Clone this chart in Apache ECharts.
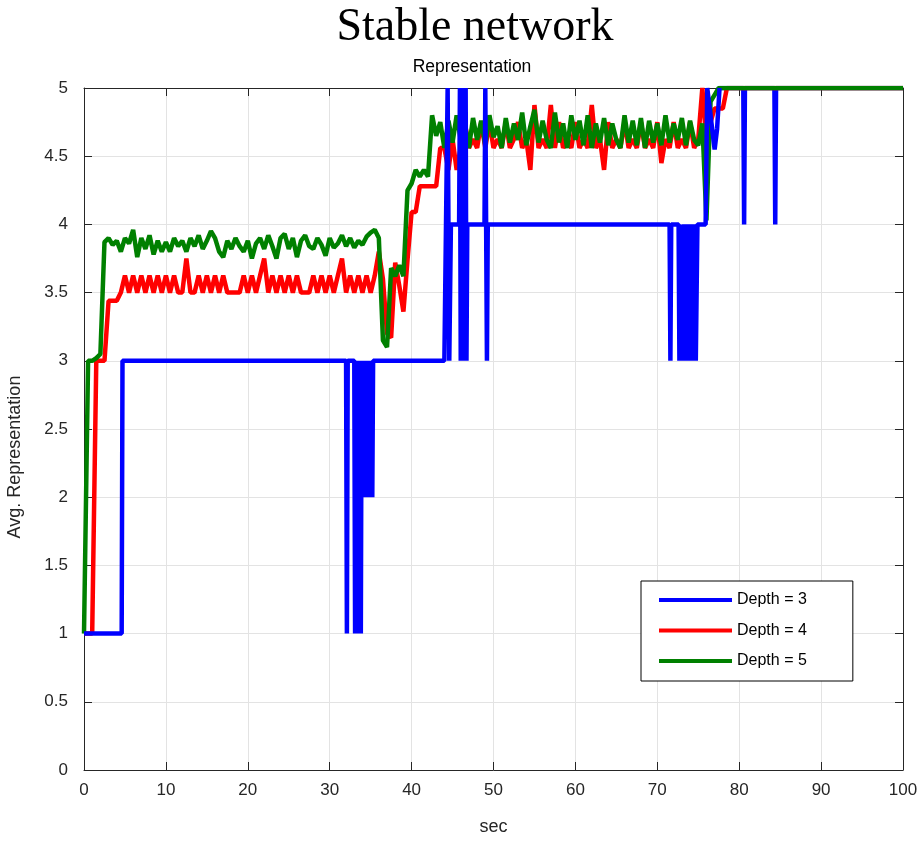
<!DOCTYPE html>
<html>
<head>
<meta charset="utf-8">
<script src="https://cdn.jsdelivr.net/npm/echarts@6/dist/echarts.min.js"></script>
<style>
html,body{margin:0;padding:0;background:#fff;}
#chart{width:923px;height:843px;}
</style>
</head>
<body>
<div id="chart"></div>
<script>
// ---- data ----
const titleText = 'Stable network';
const subtitleText = 'Representation';
const xAxisName = 'sec';
const yAxisName = 'Avg. Representation';
const seriesNames = ['Depth = 3', 'Depth = 4', 'Depth = 5'];
const xTicks = { min: 0, max: 100, interval: 10 };
const yTicks = { min: 0, max: 5, interval: 0.5 };

// red / green sampled every 0.5 s from 0 to 80 s, then held to 100 s
const sampleStep = 0.5;
const endTime = 100;
const endValue = 5;

const redValues = [
  1, 1, 1, 3, 3, 3, 3.44, 3.44, 3.44, 3.5,
  3.625, 3.5, 3.625, 3.5, 3.625, 3.5, 3.625, 3.5, 3.625, 3.5,
  3.625, 3.5, 3.625, 3.5, 3.5, 3.75, 3.5, 3.5, 3.625, 3.5,
  3.625, 3.5, 3.625, 3.5, 3.625, 3.5, 3.5, 3.5, 3.5, 3.625,
  3.5, 3.625, 3.5, 3.625, 3.75, 3.5, 3.625, 3.5, 3.625, 3.5,
  3.625, 3.5, 3.625, 3.5, 3.5, 3.5, 3.625, 3.5, 3.625, 3.5,
  3.625, 3.5, 3.625, 3.75, 3.5, 3.625, 3.5, 3.625, 3.5, 3.625,
  3.5, 3.625, 3.8, 3.6, 3.2, 3.17, 3.72, 3.55, 3.36, 3.74,
  4.09, 4.09, 4.28, 4.28, 4.28, 4.28, 4.28,
  4.56, 4.56, 4.4, 4.625, 4.4, 4.56, 4.75, 4.56, 4.625, 4.56,
  4.75, 4.56, 4.75, 4.56, 4.625, 4.56, 4.75, 4.56, 4.625, 4.75,
  4.56, 4.625, 4.4, 4.875, 4.56, 4.625, 4.56, 4.875, 4.56, 4.75,
  4.56, 4.625, 4.56, 4.75, 4.56, 4.625, 4.56, 4.875, 4.56, 4.625,
  4.4, 4.75, 4.56, 4.625, 4.56, 4.75, 4.56, 4.625, 4.56, 4.75,
  4.56, 4.625, 4.56, 4.75, 4.45, 4.625, 4.56, 4.75, 4.56, 4.625,
  4.56, 4.75, 4.56, 4.625, 5,
  4.6, 4.75, 4.85, 4.85, 4.85, 5, 5, 5, 5
];

const greenValues = [
  1, 3, 3, 3.02, 3.05, 3.87, 3.9, 3.85, 3.88, 3.8,
  3.9, 3.86, 3.96, 3.76, 3.9, 3.82, 3.92, 3.78, 3.88, 3.8,
  3.87, 3.8, 3.9, 3.84, 3.88, 3.8, 3.9, 3.84, 3.92, 3.82,
  3.88, 3.95, 3.9, 3.8, 3.76, 3.88, 3.82, 3.9, 3.84, 3.8,
  3.88, 3.75, 3.86, 3.9, 3.82, 3.92, 3.84, 3.75, 3.9, 3.93,
  3.82, 3.9, 3.76, 3.88, 3.92, 3.84, 3.82, 3.9, 3.85, 3.77,
  3.9, 3.83, 3.86, 3.92, 3.84, 3.9, 3.83, 3.88, 3.85, 3.91,
  3.94, 3.96, 3.9, 3.15, 3.1, 3.68, 3.62, 3.7, 3.62, 4.25,
  4.3, 4.4, 4.35, 4.4, 4.35, 4.8, 4.65, 4.75,
  4.56, 4.76, 4.6, 4.8, 4.62, 4.74, 4.56, 4.78, 4.62, 4.76,
  4.58, 4.8, 4.64, 4.72, 4.56, 4.78, 4.6, 4.74, 4.62, 4.82,
  4.58, 4.72, 4.84, 4.6, 4.76, 4.62, 4.56, 4.82, 4.6, 4.74,
  4.56, 4.8, 4.62, 4.76, 4.58, 4.8, 4.56, 4.74, 4.6, 4.78,
  4.58, 4.74, 4.62, 4.56, 4.8, 4.6, 4.76, 4.58, 4.78, 4.56,
  4.76, 4.6, 4.74, 4.58, 4.8, 4.6, 4.74, 4.62, 4.78, 4.58,
  4.76, 4.62, 4.58, 4.74,
  4.03, 4.9, 4.95, 5, 5, 5, 5, 5, 5
];

// blue is a step signal: (time, value) pairs
const blueTimes = [
  0, 4.6, 4.7, 32.0, 32.1, 32.2, 33.0, 33.1, 33.3, 33.5,
  33.7, 33.8, 33.9, 34.1, 34.3, 34.5, 34.7, 34.9, 35.1, 35.2,
  35.3, 44.0, 44.2, 44.4, 44.6, 44.8, 45.8, 45.9, 46.0, 46.1,
  46.2, 46.3, 46.4, 46.5, 46.6, 46.7, 46.8, 48.9, 49.0, 49.2,
  49.3, 71.5, 71.6, 71.7, 72.6, 72.7, 72.8, 73.1, 73.3, 73.5,
  73.7, 73.9, 74.1, 74.3, 74.5, 74.7, 74.9, 75.9, 76.1, 76.5,
  77.0, 77.3, 77.6, 80.5, 80.6, 80.7, 84.3, 84.4, 84.5, 100
];
const blueValues = [
  1, 1, 3, 3, 1, 3, 3, 1, 3, 1,
  3, 1, 3, 2, 3, 2, 3, 2, 3, 2,
  3, 3, 4, 5, 3, 4, 4, 5, 3, 5,
  3, 4, 5, 3, 5, 3, 4, 4, 5, 3,
  4, 4, 3, 4, 4, 3, 4, 3, 4, 3,
  4, 3, 4, 3, 4, 3, 4, 4, 5, 4.8,
  4.55, 4.7, 5, 5, 4, 5, 5, 4, 5, 5
];
const blueSplitTime = 77.6; // part after this is drawn beneath green

// ---- build ----
function sampled(values) {
  const out = values.map((v, i) => [i * sampleStep, v]);
  out.push([endTime, endValue]);
  return out;
}
const bluePairs = blueTimes.map((t, i) => [t, blueValues[i]]);
const blueFront = bluePairs.filter(p => p[0] <= blueSplitTime);
const blueBack = bluePairs.filter(p => p[0] >= blueSplitTime);

const colors = { blue: '#0000ff', red: '#ff0000', green: '#008000' };
const axisColor = '#262626';
const gridColor = '#e3e3e3';
const fontFam = '"Liberation Sans", Arial, sans-serif';

function lineSeries(name, color, data) {
  return {
    type: 'line', name: name, data: data, showSymbol: false, symbol: 'none',
    color: color, lineStyle: { color: color, width: 4.5 },
    animation: false, xAxisIndex: 0, yAxisIndex: 0
  };
}

const chart = echarts.init(document.getElementById('chart'), null, { renderer: 'canvas' });
const baseX = {
  type: 'value', min: xTicks.min, max: xTicks.max, interval: xTicks.interval,
  axisLine: { show: true, onZero: false, lineStyle: { color: axisColor, width: 1 } },
  axisTick: { show: true, inside: true, length: 8, lineStyle: { color: axisColor } }
};
const baseY = {
  type: 'value', min: yTicks.min, max: yTicks.max, interval: yTicks.interval,
  axisLine: { show: true, onZero: false, lineStyle: { color: axisColor, width: 1 } },
  axisTick: { show: true, inside: true, length: 8, lineStyle: { color: axisColor } }
};

chart.setOption({
  animation: false,
  backgroundColor: '#fff',
  grid: { left: 84, right: 20, top: 88, bottom: 73, containLabel: false },
  xAxis: [
    Object.assign({}, baseX, {
      position: 'bottom',
      axisLabel: { show: true, fontSize: 17, color: axisColor, fontFamily: fontFam, margin: 12 },
      splitLine: { show: true, lineStyle: { color: gridColor, width: 1 } },
      name: xAxisName, nameLocation: 'middle', nameGap: 48,
      nameTextStyle: { fontSize: 18, color: axisColor, fontFamily: fontFam }
    }),
    Object.assign({}, baseX, {
      position: 'top', axisLabel: { show: false }, splitLine: { show: false }
    })
  ],
  yAxis: [
    Object.assign({}, baseY, {
      position: 'left',
      axisLabel: { show: true, fontSize: 17, color: axisColor, fontFamily: fontFam, margin: 16 },
      splitLine: { show: true, lineStyle: { color: gridColor, width: 1 } }
    }),
    Object.assign({}, baseY, {
      position: 'right', axisLabel: { show: false }, splitLine: { show: false }
    })
  ],
  legend: {
    data: seriesNames,
    orient: 'vertical', left: 641, top: 581,
    padding: [11, 46, 12, 18],
    itemWidth: 73, itemHeight: 4, itemGap: 14.5, icon: 'rect',
    textStyle: { fontSize: 16, color: '#000', fontFamily: fontFam },
    borderColor: '#000', borderWidth: 1, backgroundColor: '#fff', borderRadius: 0
  },
  graphic: [
    { type: 'text', x: 475, y: 28, style: { text: titleText, fill: '#000',
      font: '46px "Liberation Serif", serif', textAlign: 'center', textVerticalAlign: 'middle',
      align: 'center', verticalAlign: 'middle' } },
    { type: 'text', x: 472, y: 67, style: { text: subtitleText, fill: '#000',
      font: '17.5px "Liberation Sans", Arial, sans-serif', textAlign: 'center', textVerticalAlign: 'middle',
      align: 'center', verticalAlign: 'middle' } },
    { type: 'text', x: 15, y: 457, rotation: Math.PI / 2, style: { text: yAxisName, fill: axisColor,
      font: '18px "Liberation Sans", Arial, sans-serif', textAlign: 'center', textVerticalAlign: 'middle',
      align: 'center', verticalAlign: 'middle' } }
  ],
  series: [
    lineSeries(seriesNames[0], colors.blue, blueBack),
    lineSeries(seriesNames[1], colors.red, sampled(redValues)),
    lineSeries(seriesNames[2], colors.green, sampled(greenValues)),
    lineSeries(seriesNames[0], colors.blue, blueFront)
  ]
});
</script>
</body>
</html>
